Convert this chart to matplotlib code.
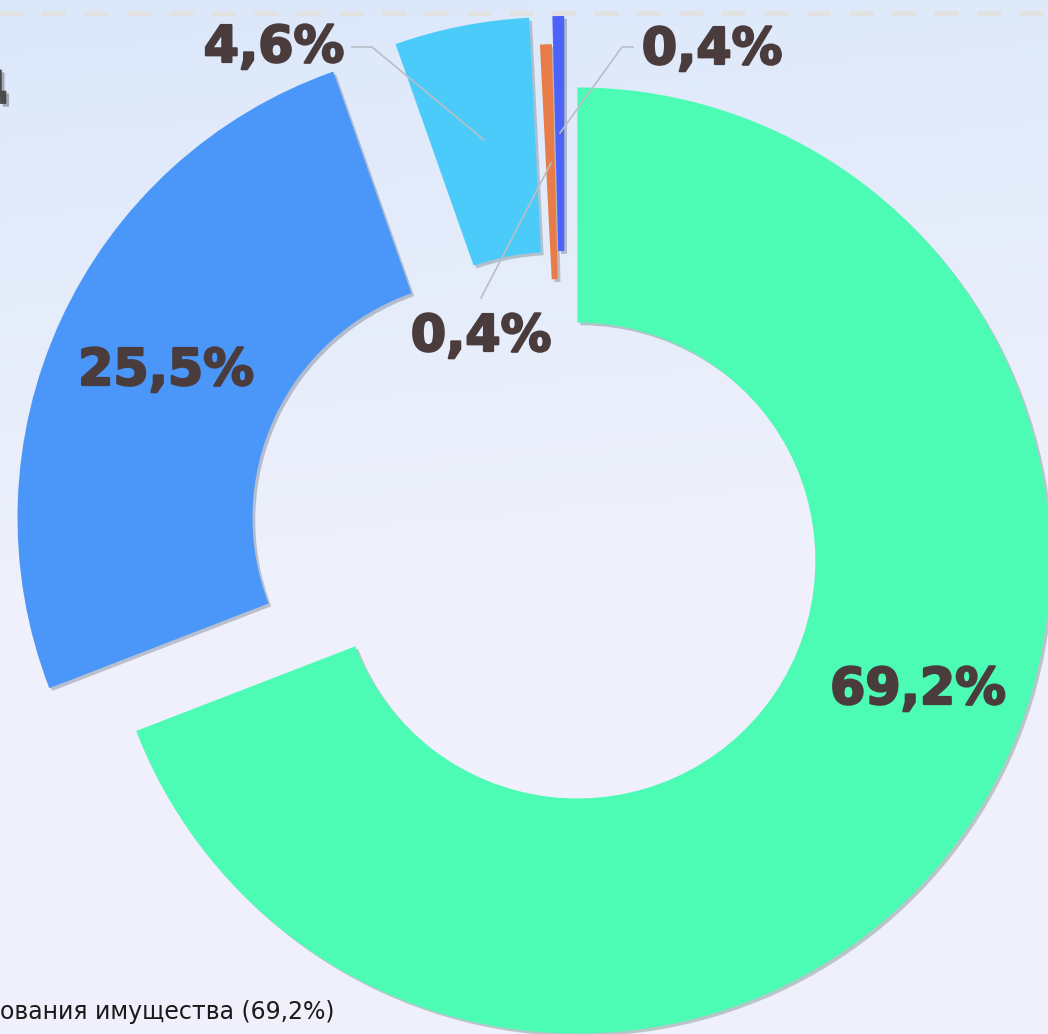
import matplotlib
matplotlib.use('Agg')
import matplotlib.pyplot as plt
import matplotlib.patheffects as pe
import numpy as np

# shares of the doughnut, clockwise from 12 o'clock
shares = [69.2, 25.5, 4.6, 0.4, 0.4]
colors = ['#4cfbb4', '#4a96f9', '#4bcbfa', '#e87c48', '#4b62fb']
legend_tail = 'ования имущества (69,2%)'
title_tail = 'д'

W, H = 1048, 1034
# slices were pulled out by hand on the slide, offsets in pixels
explode = [15, 82, 63, 35, 63]
label_pos = [(918, 690), (166, 371), (274, 48), (481, 337), (712, 50)]
leaders = [None, None,
           [(352, 47), (372, 47), (484, 140)],
           [(481, 298), (551, 163)],
           [(633, 47), (622, 47), (560, 133)]]

fig = plt.figure(figsize=(W / 100, H / 100), dpi=100)
ax = fig.add_axes([0, 0, 1, 1])

# pale blue slide background
yy = np.linspace(0, 1, 200)[:, None]
xx = np.linspace(0, 1, 200)[None, :]
top = np.array([0.86, 0.91, 0.98])
bot = np.array([0.94, 0.945, 0.985])
t = np.clip(yy * 1.6 + 0.15 * xx, 0, 1)
bg = top * (1 - t[..., None]) + bot * t[..., None]
ax.imshow(bg, extent=(0, W, 0, H), origin='upper', zorder=0, aspect='auto')

# dashed rule on top
ax.plot([-19, W], [H - 12.5] * 2, color='#e2e2e2', lw=3.6,
        dashes=(4.8, 3.7), zorder=1)

wedges, _ = ax.pie(shares, colors=colors, explode=explode, startangle=90,
                   counterclock=False, radius=473, center=(565, H - 552),
                   wedgeprops=dict(width=235, linewidth=0), frame=True)
for w in wedges:
    w.set_zorder(2)
    w.set_path_effects([pe.SimplePatchShadow(offset=(2, -2), alpha=0.25),
                        pe.Normal()])

lab_col = '#4a3c3c'
for v, (x, y), pts in zip(shares, label_pos, leaders):
    ax.text(x, H - y, f'{v:.1f}%'.replace('.', ','), ha='center', va='center',
            fontsize=36.5, fontweight='bold', color=lab_col, zorder=4,
            path_effects=[pe.Stroke(linewidth=1.6, foreground=lab_col),
                          pe.Normal()])
    if pts:
        px, py = zip(*pts)
        ax.plot(px, [H - p for p in py], color='#b9bec6', lw=1.2, zorder=3)

ax.text(9, H - 97, title_tail, ha='right', va='baseline', fontsize=36,
        fontweight='bold', color='#4a4a4a', zorder=4,
        path_effects=[pe.withSimplePatchShadow(offset=(2, -2), alpha=0.3)])
ax.text(0, H - 1019, legend_tail, ha='left', va='baseline', fontsize=17,
        color='#1a1a1a', zorder=4)

ax.set_xlim(0, W)
ax.set_ylim(0, H)
ax.set_aspect('equal')
ax.axis('off')

fig.savefig('out.png', dpi=100)
